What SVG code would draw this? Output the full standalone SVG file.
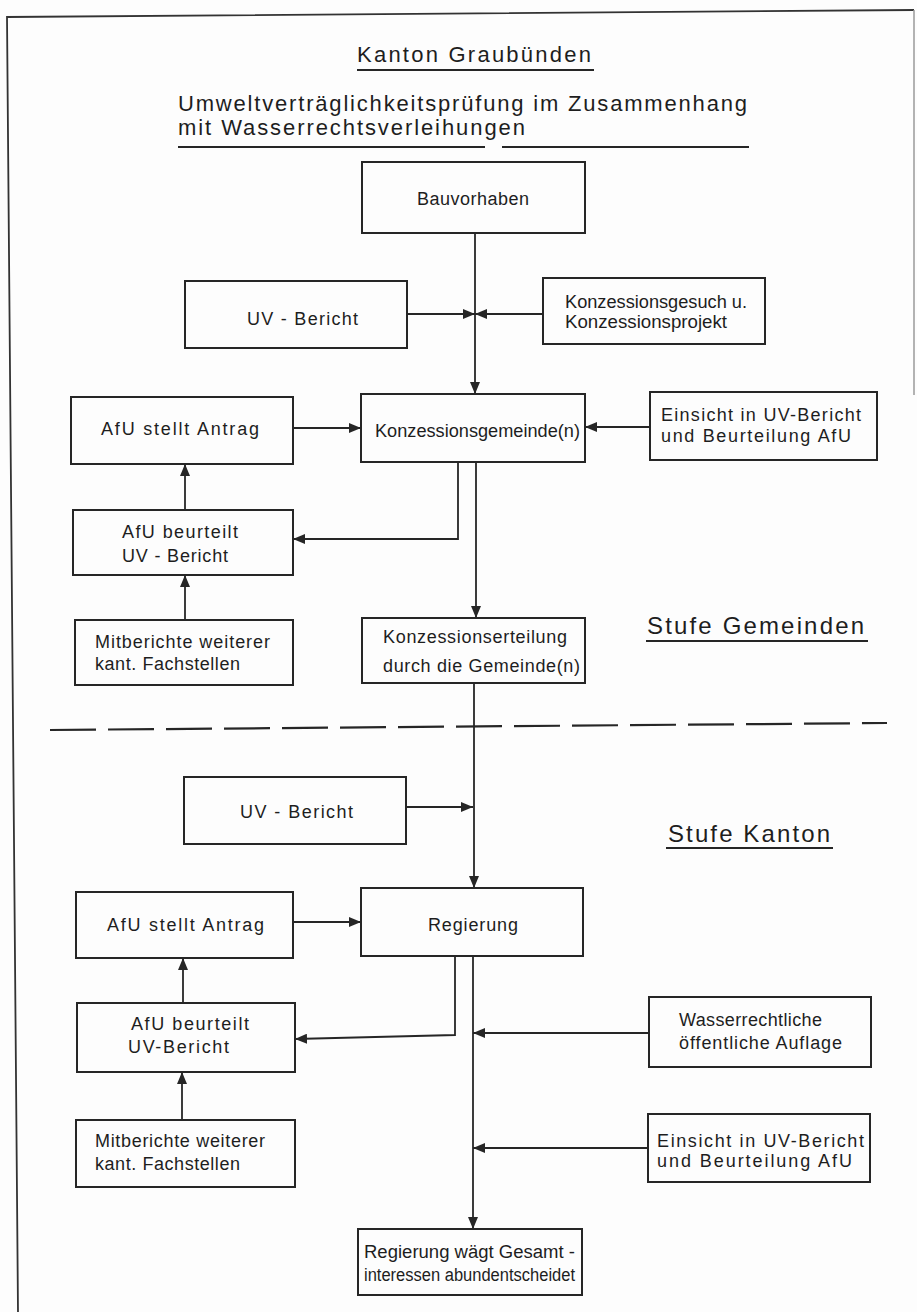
<svg xmlns="http://www.w3.org/2000/svg" width="917" height="1312" viewBox="0 0 917 1312">
<style>
.box{fill:none;stroke:#262626;stroke-width:2}
.t{font-family:"Liberation Sans",Arial,sans-serif;font-size:18px;fill:#1e1e1e}
.h{font-family:"Liberation Sans",Arial,sans-serif;font-size:22px;fill:#1e1e1e}
.c{fill:none;stroke:#262626;stroke-width:1.8;marker-end:url(#ah)}
.ul{stroke:#262626;stroke-width:2.2;fill:none}
</style>
<defs>
<marker id="ah" markerUnits="userSpaceOnUse" markerWidth="12" markerHeight="10" refX="12" refY="5" orient="auto">
<path d="M0,0 L12,5 L0,10 z" fill="#262626"/>
</marker>
</defs>
<rect width="917" height="1312" fill="#fdfdfd"/>
<g id="frame">
<path d="M18,1312 L7,17 L914,10" fill="none" stroke="#333" stroke-width="1.8"/>
<path d="M914,10 V395" fill="none" stroke="#9a9a9a" stroke-width="1.5"/>
</g>
<g id="title">
<text class="h" x="357" y="62" textLength="234" lengthAdjust="spacing">Kanton Graubünden</text>
<path class="ul" d="M357,70 H594"/>
<text class="h" x="178" y="111" textLength="569" lengthAdjust="spacing">Umweltverträglichkeitsprüfung im Zusammenhang</text>
<text class="h" x="178" y="135" textLength="347" lengthAdjust="spacing">mit Wasserrechtsverleihungen</text>
<path class="ul" d="M178,147 H485 M502,147 H749"/>
</g>
<g id="connectors">
<path class="c" d="M475,233 V394"/>
<path class="c" d="M407,314 H475"/>
<path class="c" d="M543,314 H475"/>
<path class="c" d="M293,428 H361"/>
<path class="c" d="M650,427 H585"/>
<path class="c" d="M458,462 V539 H293"/>
<path class="c" d="M476,462 V618"/>
<path class="c" d="M185,510 V464"/>
<path class="c" d="M185,620 V575"/>
<path class="c" d="M474,683 V888"/>
<path class="c" d="M406,807 H473"/>
<path class="c" d="M293,922 H361"/>
<path class="c" d="M455,956 V1035 L295,1039"/>
<path class="c" d="M473,956 V1229"/>
<path class="c" d="M183,1003 V958"/>
<path class="c" d="M182,1120 V1072"/>
<path class="c" d="M649,1033 H473"/>
<path class="c" d="M648,1148 H473"/>
</g>
<g id="divider">
<path d="M50,730 L887,723" fill="none" stroke="#262626" stroke-width="2.2" stroke-dasharray="46 12"/>
</g>
<g id="stufe-gemeinden">
<text class="h" style="font-size:24px" x="647" y="634" textLength="217" lengthAdjust="spacing">Stufe Gemeinden</text>
<path class="ul" d="M646,641 H868"/>
</g>
<g id="stufe-kanton">
<text class="h" style="font-size:24px" x="668" y="842" textLength="162" lengthAdjust="spacing">Stufe Kanton</text>
<path class="ul" d="M666,848 H833"/>
</g>
<g id="bauvorhaben">
<rect class="box" x="362" y="162" width="223" height="71"/>
<text class="t" x="417" y="205" textLength="112" lengthAdjust="spacing">Bauvorhaben</text>
</g>
<g id="uv-bericht-1">
<rect class="box" x="185" y="281" width="222" height="67"/>
<text class="t" x="247" y="325" textLength="111" lengthAdjust="spacing">UV - Bericht</text>
</g>
<g id="konzessionsgesuch">
<rect class="box" x="543" y="278" width="222" height="66"/>
<text class="t" x="565" y="308" textLength="182" lengthAdjust="spacingAndGlyphs">Konzessionsgesuch u.</text>
<text class="t" x="565" y="328" textLength="162" lengthAdjust="spacingAndGlyphs">Konzessionsprojekt</text>
</g>
<g id="afu-antrag-1">
<rect class="box" x="71" y="397" width="222" height="67"/>
<text class="t" x="101" y="435" textLength="158" lengthAdjust="spacing">AfU stellt Antrag</text>
</g>
<g id="konzessionsgemeinde">
<rect class="box" x="361" y="394" width="224" height="68"/>
<text class="t" x="375" y="437" textLength="205" lengthAdjust="spacingAndGlyphs">Konzessionsgemeinde(n)</text>
</g>
<g id="einsicht-1">
<rect class="box" x="650" y="392" width="227" height="68"/>
<text class="t" x="661" y="421" textLength="200" lengthAdjust="spacing">Einsicht in UV-Bericht</text>
<text class="t" x="661" y="442" textLength="190" lengthAdjust="spacing">und Beurteilung AfU</text>
</g>
<g id="afu-beurteilt-1">
<rect class="box" x="73" y="510" width="220" height="65"/>
<text class="t" x="122" y="538" textLength="116" lengthAdjust="spacing">AfU beurteilt</text>
<text class="t" x="122" y="562" textLength="106" lengthAdjust="spacing">UV - Bericht</text>
</g>
<g id="mitberichte-1">
<rect class="box" x="75" y="620" width="218" height="65"/>
<text class="t" x="95" y="648" textLength="175" lengthAdjust="spacing">Mitberichte weiterer</text>
<text class="t" x="95" y="670" textLength="145" lengthAdjust="spacing">kant. Fachstellen</text>
</g>
<g id="konzessionserteilung">
<rect class="box" x="362" y="618" width="223" height="65"/>
<text class="t" x="383" y="643" textLength="184" lengthAdjust="spacing">Konzessionserteilung</text>
<text class="t" x="383" y="672" textLength="197" lengthAdjust="spacing">durch die Gemeinde(n)</text>
</g>
<g id="uv-bericht-2">
<rect class="box" x="184" y="777" width="222" height="67"/>
<text class="t" x="240" y="818" textLength="113" lengthAdjust="spacing">UV - Bericht</text>
</g>
<g id="afu-antrag-2">
<rect class="box" x="76" y="892" width="217" height="66"/>
<text class="t" x="107" y="931" textLength="157" lengthAdjust="spacing">AfU stellt Antrag</text>
</g>
<g id="regierung">
<rect class="box" x="361" y="888" width="222" height="68"/>
<text class="t" x="428" y="931" textLength="90" lengthAdjust="spacing">Regierung</text>
</g>
<g id="afu-beurteilt-2">
<rect class="box" x="77" y="1003" width="218" height="69"/>
<text class="t" x="131" y="1030" textLength="118" lengthAdjust="spacing">AfU beurteilt</text>
<text class="t" x="128" y="1053" textLength="101" lengthAdjust="spacing">UV-Bericht</text>
</g>
<g id="wasserrechtliche">
<rect class="box" x="649" y="997" width="222" height="70"/>
<text class="t" x="679" y="1026" textLength="143" lengthAdjust="spacing">Wasserrechtliche</text>
<text class="t" x="679" y="1049" textLength="163" lengthAdjust="spacing">öffentliche Auflage</text>
</g>
<g id="mitberichte-2">
<rect class="box" x="76" y="1120" width="219" height="67"/>
<text class="t" x="95" y="1147" textLength="170" lengthAdjust="spacing">Mitberichte weiterer</text>
<text class="t" x="95" y="1170" textLength="145" lengthAdjust="spacing">kant. Fachstellen</text>
</g>
<g id="einsicht-2">
<rect class="box" x="648" y="1114" width="222" height="68"/>
<text class="t" x="657" y="1147" textLength="207" lengthAdjust="spacing">Einsicht in UV-Bericht</text>
<text class="t" x="657" y="1167" textLength="195" lengthAdjust="spacing">und Beurteilung AfU</text>
</g>
<g id="entscheid">
<rect class="box" x="358" y="1229" width="224" height="66"/>
<text class="t" x="364" y="1258" textLength="211" lengthAdjust="spacingAndGlyphs">Regierung wägt Gesamt -</text>
<text class="t" x="364" y="1281" textLength="211" lengthAdjust="spacingAndGlyphs">interessen abundentscheidet</text>
</g>
</svg>
